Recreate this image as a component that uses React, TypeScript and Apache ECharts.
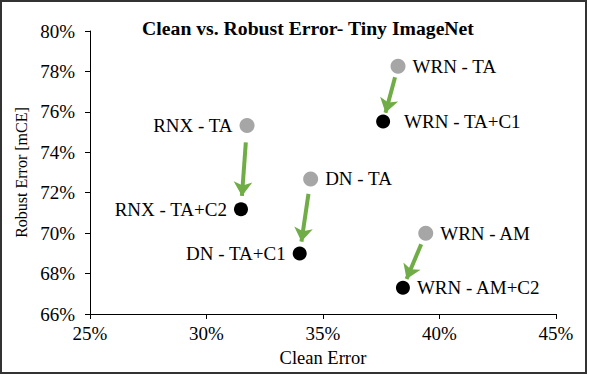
import React, { useEffect, useRef } from "react";
import * as echarts from "echarts";

const baseNames = ["RNX - TA", "DN - TA", "WRN - TA", "WRN - AM"];
const baseClean = [31.74, 34.47, 38.22, 39.41];
const baseRobust = [75.32, 72.68, 78.26, 69.99];
const ourNames = ["RNX - TA+C2", "DN - TA+C1", "WRN - TA+C1", "WRN - AM+C2"];
const ourClean = [31.48, 34.0, 37.58, 38.43];
const ourRobust = [71.18, 68.99, 75.52, 67.3];
const baseLabelSide = ["left", "right", "right", "right"];
const ourLabelSide = ["left", "left", "right", "right"];
const xTicks = [25, 30, 35, 40, 45];
const yTicks = [66, 68, 70, 72, 74, 76, 78, 80];

const FONT = "'Liberation Serif', 'Times New Roman', serif";

export default function App() {
  const ref = useRef<HTMLDivElement>(null);
  useEffect(() => {
    const chart = echarts.init(ref.current!, null, { renderer: "svg" });
    const arrowData = baseClean.map((bx, i) => {
      const ox = ourClean[i];
      const by = baseRobust[i];
      const oy = ourRobust[i];
      const f0 = 0.2;
      const f1 = 0.84;
      return {
        coords: [
          [bx + (ox - bx) * f0, by + (oy - by) * f0],
          [bx + (ox - bx) * f1, by + (oy - by) * f1],
        ],
      };
    });
    const mkPts = (xs: number[], ys: number[], names: string[], sides: string[]) =>
      xs.map((x, i) => ({
        value: [x, ys[i]],
        name: names[i],
        label: {
          position: sides[i] as any,
          distance: names[i] === "WRN - TA+C1" ? 14 : 7,
        },
      }));
    const labelStyle = {
      show: true,
      formatter: "{b}",
      fontFamily: FONT,
      fontSize: 19,
      color: "#000",
    };
    chart.setOption({
      animation: false,
      title: {
        text: "Clean vs. Robust Error- Tiny ImageNet",
        left: 303,
        textAlign: "center",
        top: 13,
        textStyle: { fontFamily: FONT, fontWeight: "bold", fontSize: 19.7, color: "#000" },
      },
      grid: { left: 90, right: 33, top: 31, bottom: 61 },
      xAxis: {
        type: "value",
        min: 25,
        max: 45,
        interval: 5,
        name: "Clean Error",
        nameLocation: "middle",
        nameGap: 34,
        nameTextStyle: { fontFamily: FONT, fontSize: 18.5, color: "#000" },
        axisLine: { lineStyle: { color: "#000", width: 1 } },
        axisTick: { show: true, length: 5, lineStyle: { color: "#000" } },
        axisLabel: {
          margin: 10,
          fontFamily: FONT,
          fontSize: 19,
          color: "#000",
          formatter: (v: number) => (xTicks.includes(v) ? v + "%" : ""),
        },
        splitLine: { show: false },
      },
      yAxis: {
        type: "value",
        min: 66,
        max: 80,
        interval: 2,
        name: "Robust Error [mCE]",
        nameLocation: "middle",
        nameGap: 45,
        nameTextStyle: { fontFamily: FONT, fontSize: 16, color: "#000" },
        axisLine: { show: true, lineStyle: { color: "#000", width: 1 } },
        axisTick: { show: true, length: 5, lineStyle: { color: "#000" } },
        axisLabel: {
          margin: 15,
          fontFamily: FONT,
          fontSize: 19,
          color: "#000",
          formatter: (v: number) => (yTicks.includes(v) ? v + "%" : ""),
        },
        splitLine: { show: false },
      },
      graphic: [
        {
          type: "rect",
          shape: { x: 1, y: 1, width: 585, height: 372 },
          style: { fill: "none", stroke: "#333", lineWidth: 2 },
          silent: true,
        },
      ],
      series: [
        {
          type: "lines",
          coordinateSystem: "cartesian2d",
          symbol: ["none", "arrow"],
          symbolSize: [0, 14],
          lineStyle: { color: "#70AD47", width: 4, opacity: 1 },
          data: arrowData,
          z: 1,
        },
        {
          type: "scatter",
          symbolSize: 15,
          itemStyle: { color: "#A6A6A6", opacity: 1 },
          label: labelStyle,
          data: mkPts(baseClean, baseRobust, baseNames, baseLabelSide),
          z: 3,
        },
        {
          type: "scatter",
          symbolSize: 14,
          itemStyle: { color: "#000", opacity: 1 },
          label: labelStyle,
          data: mkPts(ourClean, ourRobust, ourNames, ourLabelSide),
          z: 3,
        },
      ],
    });
    return () => chart.dispose();
  }, []);
  return (
    <div
      ref={ref}
      style={{ position: "fixed", left: 0, top: 0, width: 589, height: 375, background: "#fff" }}
    />
  );
}
